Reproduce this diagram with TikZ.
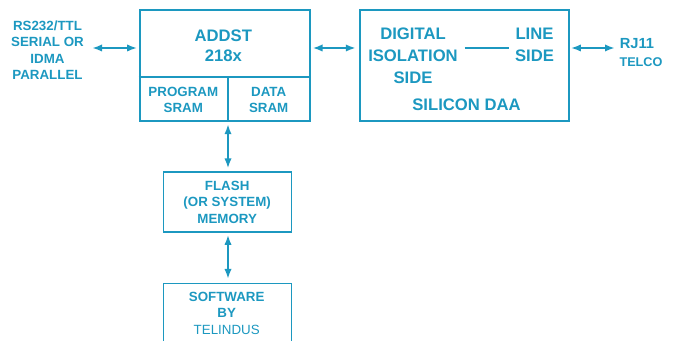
\documentclass[tikz,border=0pt]{standalone}
\usepackage{fontspec}
\setmainfont{Liberation Sans}
\usetikzlibrary{arrows.meta}
\definecolor{daablue}{RGB}{28,152,192}

\begin{document}
\begin{tikzpicture}[x=0.75pt,y=-0.75pt,
  chipbox/.style={draw=daablue,line width=1.5pt,anchor=north west,inner sep=0pt},
  membox/.style={draw=daablue,line width=1pt,anchor=north west,inner sep=0pt,minimum width=96pt},
  bigtxt/.style={text=daablue,align=center,inner sep=0pt,font=\fontsize{12.5}{15}\selectfont\bfseries},
  smalltxt/.style={text=daablue,align=center,inner sep=0pt,font=\fontsize{10}{12.3}\selectfont\bfseries},
  link/.style={draw=daablue,line width=1.6pt,{Latex[length=7.5pt,width=5.5pt]}-{Latex[length=7.5pt,width=5.5pt]}}]
\useasboundingbox (0,0) rectangle (676,341);

\node[chipbox,minimum width=127.5pt,minimum height=83pt] (addst) at (138.5,9.5) {};
\node[chipbox,minimum width=156.75pt,minimum height=83.25pt] (daa) at (358.5,9.5) {};
\node[membox,minimum height=45pt] (flash) at (162.5,171.5) {};
\node[membox,minimum height=50pt] (soft) at (162.5,283) {};

\coordinate (sram) at (228,77);
\coordinate (bus) at (0,48);
\coordinate (hostend) at (92,48);
\coordinate (telend) at (615,48);
\draw[daablue,line width=1.5pt] (addst.west |- sram) -- (addst.east |- sram);
\draw[daablue,line width=1.5pt] (sram) -- (sram |- addst.south);

\node[smalltxt] (host) at (47.5,50) {RS232/TTL\\SERIAL OR\\IDMA\\PARALLEL};
\node[bigtxt] (core) at (223.3,46) {ADDST\\218x};
\node[smalltxt] (psram) at (183.3,100) {PROGRAM\\SRAM};
\node[smalltxt] (dsram) at (268.7,100) {DATA\\SRAM};
\node[bigtxt,font=\fontsize{12.5}{16.3}\selectfont\bfseries] (iso) at (413,56) {DIGITAL\\ISOLATION\\SIDE};
\node[bigtxt,font=\fontsize{12.5}{16.3}\selectfont\bfseries] (lside) at (534.5,45) {LINE\\SIDE};
\node[bigtxt] (silicon) at (466.5,105) {SILICON DAA};
\node[bigtxt,font=\fontsize{11}{13}\selectfont\bfseries] (rj) at (637,44) {RJ11};
\node[smalltxt,font=\fontsize{9.5}{12}\selectfont\bfseries] (telco) at (641,62) {TELCO};
\node[smalltxt] (flashtxt) at (flash.center) {FLASH\\(OR SYSTEM)\\MEMORY};
\node[smalltxt] (softtxt) at (226.7,313.4) {SOFTWARE\\BY\\\mdseries TELINDUS};

\draw[link,shorten >=1pt] (hostend) -- (addst.west |- hostend);
\draw[link,shorten <=1.5pt,shorten >=2pt] (addst.east |- bus) -- (daa.west |- bus);
\draw[link,shorten <=1pt] (daa.east |- bus) -- (telend);
\draw[daablue,line width=1.5pt,shorten <=5pt,shorten >=4.5pt] (iso.east |- bus) -- (lside.west |- bus);
\draw[link,shorten <=1.5pt,shorten >=2.3pt] (sram |- addst.south) -- (sram |- flash.north);
\draw[link,shorten <=1.5pt,shorten >=3pt] (sram |- flash.south) -- (sram |- soft.north);
\end{tikzpicture}
\end{document}
